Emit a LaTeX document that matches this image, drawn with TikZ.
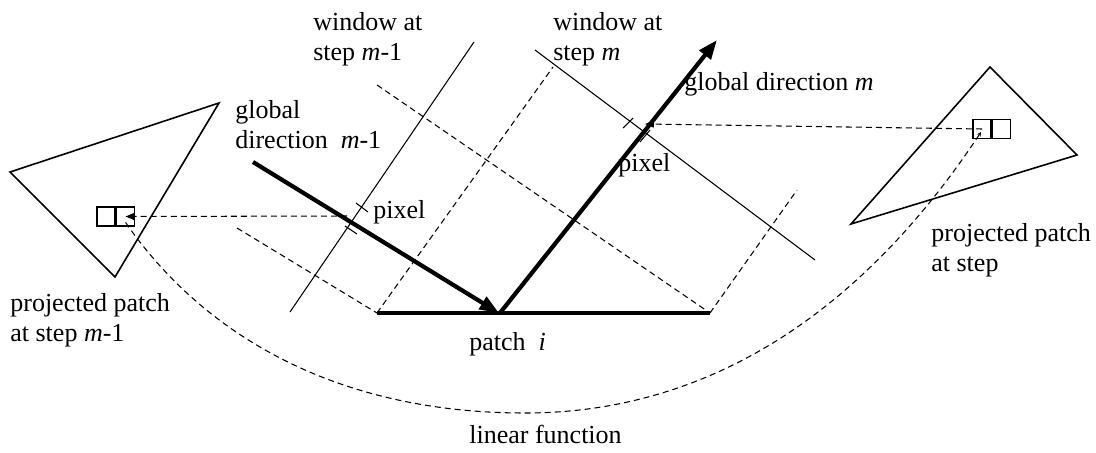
\documentclass[tikz,border=0pt]{standalone}
\usepackage{fontspec}
\setmainfont{Liberation Serif}
\usetikzlibrary{arrows.meta,positioning,calc}
\tikzset{
  lbl/.style={font=\fontsize{14.8}{17}\selectfont,inner sep=0pt,align=left,anchor=north west},
  thinln/.style={line width=0.6pt},
  dsh/.style={line width=0.6pt,dash pattern=on 3.4pt off 2.3pt},
  tri/.style={line width=0.9pt,line join=miter},
  dir/.style={line width=2.4pt,-{Triangle[length=11pt,width=8pt]}},
  cell/.style={rectangle,draw,line width=0.9pt,minimum width=0.36cm,minimum height=0.38cm,inner sep=0pt},
  proj/.style={dsh,-{Triangle[length=5pt,width=4pt]}},
}
\begin{document}
\begin{tikzpicture}[x=0.02cm,y=-0.02cm]
  \useasboundingbox (0,0) rectangle (1096,453);
  % patch and the two directions
  \coordinate (pa) at (377,313);
  \coordinate (pb) at (710,313);
  \coordinate (foot) at (499,313);
  \coordinate (d1) at (253,162);
  \coordinate (d2) at (717,40);
  \draw[line width=2.4pt] (pa) -- (pb);
  \draw[dir] (d1) -- (foot);
  \draw[dir,shorten <=0pt] ($(foot)+(1,0)$) -- (d2);
  % dashed strips
  \draw[dsh] (237,228) -- (pa);
  \draw[dsh] (377,85) -- (pb);
  \draw[dsh] (pa) -- (553,67);
  \draw[dsh] (pb) -- (797,190);
  % windows
  \draw[thinln] (290,312) -- (474,42);
  \draw[thinln] (535,50) -- (815,260);
  % pixel ticks
  \draw[thinln] (356,203) -- (368,212);
  \draw[thinln] (345,226) -- (357,234);
  \draw[thinln] (623,128) -- (633,118);
  \draw[thinln] (640,142) -- (650,130);
  \coordinate (px1) at (347,216);
  \coordinate (px2) at (645,124);
  % projected patches
  \draw[tri] (10,172) -- (219,103) -- (115,277) -- cycle;
  \draw[tri] (990,67) -- (1077,155) -- (851,224) -- cycle;
  \node[cell] (pl1) at (106,216.5) {};
  \node[cell,right=0pt of pl1] (pl2) {};
  \node[cell] (pr1) at (982,129) {};
  \node[cell,right=0pt of pr1] (pr2) {};
  \draw[proj] (px1) -- (pl2.center);
  \draw[dsh,-{Triangle[length=5pt,width=4pt]}] (pr1.center) -- (px2);
  \draw[dsh,-{Stealth[length=2.5pt,width=2.5pt]}] ($(pl2.center)+(0,6)$) .. controls (200,330) and (330,413) .. (525,413)
    .. controls (720,413) and (870,300) .. ($(pr1.center)+(-1,3)$);
  % labels
  \node[lbl] (win1) at (313,12) {window at\\step \textit{m}-1};
  \node[lbl] (win2) at (553,12) {window at\\step \textit{m}};
  \node[lbl] (glob1) at (235,100) {global\\direction\ \ \textit{m}-1};
  \node[lbl] (glob2) at (684,72) {global direction \textit{m}};
  \node[lbl] (pix1) at (373,200) {pixel};
  \node[lbl] (pix2) at (618,153) {pixel};
  \node[lbl] (proj1) at (10,293) {projected patch\\at step \textit{m}-1};
  \node[lbl] (proj2) at (931,223) {projected patch\\at step};
  \node[lbl] (patch) at (469,332) {patch\ \ \textit{i}};
  \node[lbl] (lin) at (469,425) {linear function};
\end{tikzpicture}
\end{document}
